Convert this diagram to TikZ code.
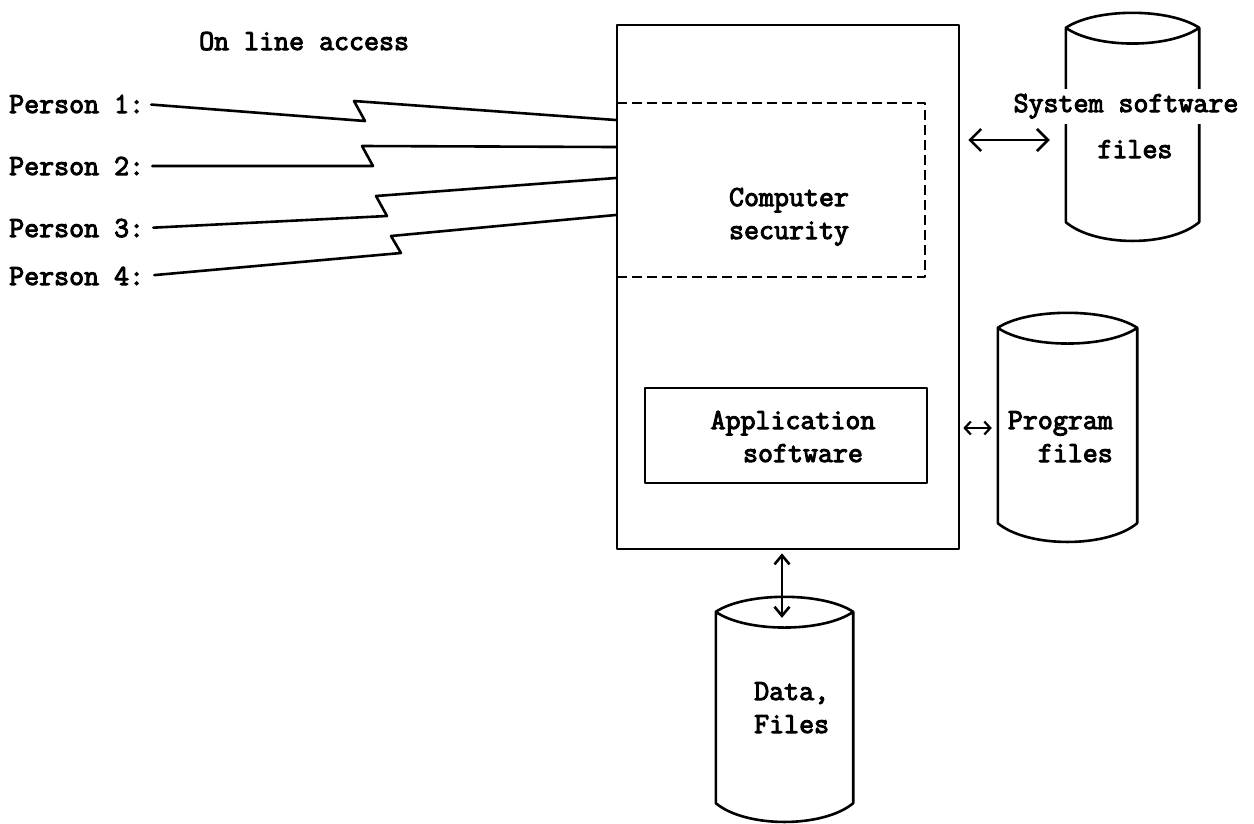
\documentclass[tikz,border=0pt]{standalone}
\usepackage{fontspec}
\newfontfamily\typewriter{Latin Modern Mono}[FakeBold=3.5]
\usetikzlibrary{arrows.meta,calc}

\tikzset{
  ink/.style={line width=2.6pt, line cap=round, line join=round},
  txt/.style={font=\typewriter\fontsize{29.1}{33}\selectfont, inner sep=0pt},
  frame/.style={ink, draw, rectangle, inner sep=0pt},
  dashframe/.style={frame, line cap=butt, dash pattern=on 10pt off 5pt},
  diskbody/.style={rectangle, inner sep=0pt},
  % outline of a disk file drawn round a named body node
  disk/.style={insert path={
    (#1.north west) .. controls +(30,-20) and +(-30,-20) .. (#1.north east)
    .. controls +(-30,21) and +(30,21) .. (#1.north west)
    -- (#1.south west) .. controls +(30,25) and +(-30,25) .. (#1.south east)
    -- (#1.north east)}},
  bigdbl/.style={ink, {Straight Barb[length=11pt,width=22pt]}-{Straight Barb[length=11pt,width=22pt]}},
  middbl/.style={ink, {Straight Barb[length=9pt,width=15pt]}-{Straight Barb[length=9pt,width=15pt]}},
  smalldbl/.style={ink, line width=2.2pt, {Straight Barb[length=6pt,width=13pt]}-{Straight Barb[length=6pt,width=13pt]}},
}

\begin{document}
\begin{tikzpicture}[x=1pt,y=-1pt]
\useasboundingbox (0,0) rectangle (1254,823);

% users on the left
\node[txt, anchor=base west] (online) at (199,50) {On line access};
\node[txt, anchor=base west] (p1) at (9,113) {Person 1:};
\node[txt, anchor=base west] (p2) at (9,175) {Person 2:};
\node[txt, anchor=base west] (p3) at (9,237) {Person 3:};
\node[txt, anchor=base west] (p4) at (9,285) {Person 4:};

% computer (base anchors of two-line nodes sit on the last line)
\node[frame, minimum width=342pt, minimum height=524pt] (host) at (788,287) {};
\node[dashframe, minimum width=308pt, minimum height=174pt] (sec) at (771,190) {};
\node[txt, align=center, anchor=base] (sectext) at (789,239) {Computer\\security};
\node[frame, minimum width=282pt, minimum height=95pt] (app) at (786,435.5) {};
\node[txt, align=center, anchor=base] (apptext) at (793,462) {Application\\\hspace*{20pt}software};

% on-line links (telephone-style zigzags)
\draw[ink, shorten <=7pt] (p1.east) -- (365,121) -- (354,101) -- (host.west |- 0,120);
\draw[ink, shorten <=8pt] (p2.east) -- (373,166) -- (362,146) -- (host.west |- 0,147);
\draw[ink, shorten <=9pt] (p3.east) -- (387,216) -- (376,196) -- (host.west |- 0,178);
\draw[ink, shorten <=10pt] (p4.east) -- (401,253) -- (391,236) -- (host.west |- 0,215);

% system software files
\node[diskbody, minimum width=133pt, minimum height=194pt] (sysdisk) at (1132.5,125) {};
\draw[ink, disk=sysdisk];
\node[txt, fill=white, inner ysep=5pt, anchor=base] (sysname) at (1126,112) {System software};
\node[txt, anchor=base] (sysfiles) at (1135,158) {files};

% program files
\node[diskbody, minimum width=139pt, minimum height=195pt] (progdisk) at (1067.5,425.5) {};
\draw[ink, disk=progdisk];
\node[txt, align=right, anchor=base east] (progtext) at (1113,462) {Program\\files};

% data files
\node[diskbody, minimum width=137pt, minimum height=191pt] (datadisk) at (784.5,707.5) {};
\draw[ink, disk=datadisk];
\node[txt, align=left, anchor=base west] (datatext) at (754,733) {Data,\\Files};

% transfers between the computer and its files
\draw[bigdbl] ($(host.east |- 0,140)+(8,0)$) -- ($(sysdisk.west |- 0,140)+(-16,0)$);
\draw[smalldbl] ($(host.east |- 0,428)+(3,0)$) -- ($(progdisk.west |- 0,428)+(-6,0)$);
\draw[middbl] ($(datadisk.north |- host.south)+(-2.5,3)$) -- ($(datadisk.north)+(-2.5,6)$);
\end{tikzpicture}
\end{document}
